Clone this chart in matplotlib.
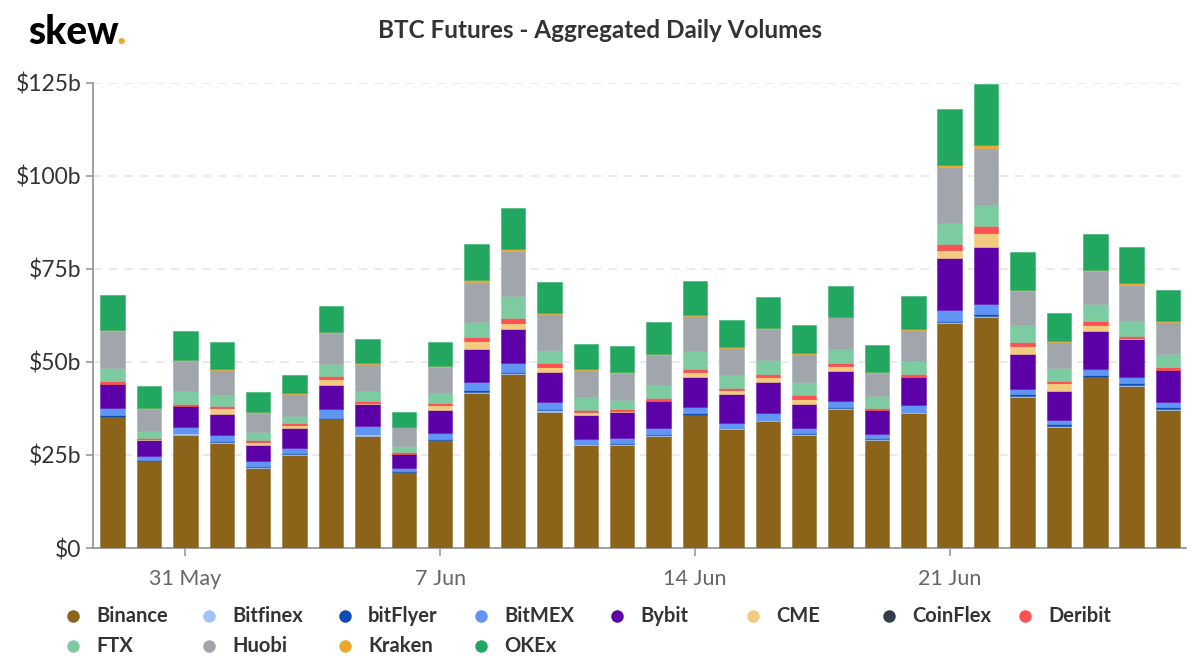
import pandas as pd
import matplotlib
matplotlib.use('Agg')
import matplotlib.pyplot as plt
from matplotlib.colors import to_rgba
from matplotlib.lines import Line2D

plt.rcParams['font.family'] = ['Lato', 'DejaVu Sans']

dates = pd.date_range('2020-05-29', periods=30)

# daily volumes in $b
binance = [35.2, 23.3, 30.4, 28.3, 21.6, 25.0, 34.6, 30.2, 20.35, 28.9, 41.75, 46.7, 36.65, 27.6, 27.6,
           30.1, 35.65, 31.9, 34.05, 30.3, 37.3, 28.9, 36.2, 60.55, 62.0, 40.5, 32.6, 45.8, 43.55, 37.0]
bitfinex = [0.1, 0.2, 0.4, 0.15, 0.15, 0.15, 0.1, 0.4, 0.15, 0.1, 0.2, 0.3, 0.45, 0.2, 0.3,
            0.25, 0.2, 0.2, 0.2, 0.25, 0.2, 0.4, 0.3, 0.1, 0.3, 0.25, 0.3, 0.25, 0.35, 0.3]
bitflyer = [0.3, 0.1, 0.1, 0.25, 0.25, 0.3, 0.35, 0.05, 0.1, 0.25, 0.4, 0.4, 0.35, 0.25, 0.35,
            0.25, 0.4, 0.25, 0.25, 0.3, 0.35, 0.3, 0.1, 0.45, 0.5, 0.5, 0.35, 0.35, 0.45, 0.45]
bitmex = [1.9, 1.2, 1.7, 1.7, 1.35, 1.35, 2.15, 2.0, 0.95, 1.6, 2.3, 2.25, 1.7, 1.1, 1.35,
          1.5, 1.7, 1.35, 1.7, 1.25, 1.5, 1.15, 1.8, 2.85, 2.7, 1.45, 1.15, 1.8, 1.6, 1.4]
bybit = [6.5, 4.3, 5.5, 5.7, 4.4, 5.4, 6.6, 6.1, 3.76, 6.1, 8.7, 9.2, 8.15, 6.7, 7.0,
         7.3, 8.0, 7.6, 8.4, 6.7, 8.25, 6.2, 7.55, 13.9, 15.4, 9.4, 7.8, 10.2, 10.3, 8.65]
cme = [0.1, 0.1, 0.1, 1.6, 0.8, 0.9, 1.7, 0.1, 0.05, 1.4, 2.15, 1.7, 1.4, 0.7, 0.1,
       0.1, 1.4, 1.05, 1.4, 1.35, 1.4, 0.1, 0.1, 2.25, 3.75, 2.15, 2.05, 1.5, 0.1, 0.1]
coinflex = [0.0] * 30
deribit = [0.8, 0.3, 0.5, 0.5, 0.5, 0.45, 0.8, 0.5, 0.35, 0.6, 1.15, 1.25, 0.9, 0.6, 0.55,
           0.7, 0.8, 0.55, 0.8, 0.9, 0.8, 0.6, 0.6, 1.45, 1.9, 1.0, 0.7, 1.0, 0.7, 0.7]
ftx = [3.4, 1.8, 3.6, 2.8, 2.0, 2.0, 3.2, 2.7, 1.6, 2.7, 3.95, 5.85, 3.6, 3.4, 2.6,
       3.5, 4.85, 3.6, 3.65, 3.6, 3.75, 3.2, 3.5, 5.75, 5.55, 4.75, 3.3, 4.75, 3.95, 3.6]
huobi = [10.0, 5.9, 7.8, 6.9, 5.2, 5.9, 8.2, 7.4, 5.1, 7.0, 10.95, 12.25, 9.55, 7.15, 7.25,
         8.15, 9.2, 7.3, 8.4, 7.4, 8.4, 6.2, 8.4, 14.95, 15.4, 9.0, 7.0, 8.7, 9.7, 8.4]
kraken = [0.3, 0.3, 0.35, 0.3, 0.3, 0.3, 0.35, 0.35, 0.15, 0.3, 0.4, 0.4, 0.4, 0.4, 0.25,
          0.35, 0.45, 0.3, 0.35, 0.2, 0.2, 0.25, 0.3, 0.55, 0.65, 0.3, 0.35, 0.35, 0.35, 0.3]
okex = [9.4, 6.1, 7.9, 7.25, 5.4, 4.8, 7.0, 6.4, 4.1, 6.3, 9.8, 10.9, 8.3, 6.7, 7.0,
        8.4, 8.95, 7.05, 8.3, 7.6, 8.25, 7.3, 8.85, 15.15, 16.4, 10.3, 7.6, 9.65, 9.85, 8.4]

exchanges = ['Binance', 'Bitfinex', 'bitFlyer', 'BitMEX', 'Bybit', 'CME', 'CoinFlex', 'Deribit',
             'FTX', 'Huobi', 'Kraken', 'OKEx']
volumes = [binance, bitfinex, bitflyer, bitmex, bybit, cme, coinflex, deribit, ftx, huobi, kraken, okex]
colors = ['#8B641A', '#A3C1FA', '#0D4DB0', '#6195F4', '#5C00A8', '#F3CB80', '#343E48', '#FF5052',
          '#7DCBA0', '#A0A6AC', '#EBA82D', '#22A760']

y_ticks = [0, 25, 50, 75, 100, 125]
y_labels = ['$0', '$25b', '$50b', '$75b', '$100b', '$125b']
x_ticks = pd.to_datetime(['2020-05-31', '2020-06-07', '2020-06-14', '2020-06-21'])
x_labels = ['31 May', '7 Jun', '14 Jun', '21 Jun']

W, H = 1200, 670
fig = plt.figure(figsize=(W / 100, H / 100), dpi=100)
ax = fig.add_axes([92.6 / W, 1 - 548 / H, (1186 - 92.6) / W, (548 - 82.6) / H])

bottom = [0.0] * len(dates)
for values, color in zip(volumes, colors):
    ax.bar(dates, values, width=0.675, bottom=bottom, color=color,
           edgecolor=to_rgba(color, 0.45), linewidth=0.75, zorder=3)
    bottom = [b + v for b, v in zip(bottom, values)]

ax.set_ylim(0, 125)
ax.set_xlim(dates[0] - pd.Timedelta(days=0.55), dates[0] + pd.Timedelta(days=29.49))
ax.set_yticks(y_ticks)
ax.set_yticklabels(y_labels, fontsize=16.5, color='#333333')
ax.set_xticks(x_ticks)
ax.set_xticklabels(x_labels, fontsize=15.5, color='#666666')
ax.tick_params(axis='y', length=5, width=1.2, color='#999999', pad=3)
ax.tick_params(axis='x', length=6, width=1.2, color='#999999', pad=9)

ax.grid(axis='y', color='#EAEAEA', linewidth=1.5, linestyle=(0, (4, 3.5)), zorder=0)
ax.set_axisbelow(True)
for side in ['top', 'right']:
    ax.spines[side].set_visible(False)
for side in ['left', 'bottom']:
    ax.spines[side].set_color('#999999')
    ax.spines[side].set_linewidth(1.3)

fig.text(600 / W, 1 - 30 / H, 'BTC Futures - Aggregated Daily Volumes', fontsize=17.5,
         fontweight='bold', color='#333333', ha='center', va='center')

# logo
fig.text(28 / W, 1 - 44 / H, 'skew', fontsize=28, fontweight='black', color='#000000', ha='left', va='baseline')
fig.text(116.5 / W, 1 - 44 / H, '.', fontsize=28, fontweight='black', color='#EBA82D', ha='left', va='baseline')

# legend, four rows of columns laid out by hand
for i, (name, color) in enumerate(zip(exchanges, colors)):
    col = i % 8
    row = i // 8
    mx = 73 + 136 * col
    my = 615.5 + 30 * row
    fig.add_artist(Line2D([mx / W], [1 - my / H], marker='o', markersize=9, color=color,
                          markeredgewidth=0, linestyle='none', transform=fig.transFigure))
    fig.text((mx + 23) / W, 1 - my / H, name, fontsize=14.5, fontweight='bold',
             color='#333333', ha='left', va='center')

plt.savefig('out.png', dpi=100)
